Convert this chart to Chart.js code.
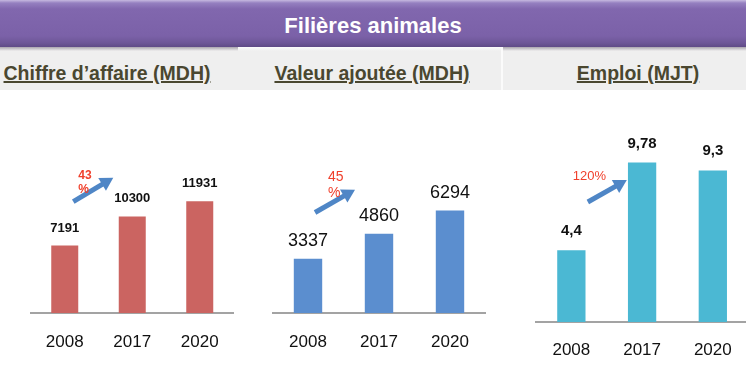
<!DOCTYPE html>
<html><head><meta charset="utf-8">
<script src="https://cdn.jsdelivr.net/npm/chart.js@4/dist/chart.umd.min.js"></script>
<style>
html,body{margin:0;padding:0;background:#fff;width:746px;height:380px;overflow:hidden;position:relative;font-family:"Liberation Sans",Arial,sans-serif}
#band{position:absolute;left:0;top:0;width:746px;height:47px;background:linear-gradient(#c6b9e0 0px,#9580c0 3px,#8167ae 9px,#7b61a8 36px,#6d5697 43px,#5f4a86 47px);}
#title{position:absolute;left:0;top:2px;width:746px;height:45px;line-height:47px;text-align:center;color:#fff;font-weight:bold;font-size:22px;}
#sub{position:absolute;left:0;top:47px;width:746px;height:43px;background:#efefef;}
.sh{position:absolute;top:47px;height:4px;background:linear-gradient(#a9a4ae,#efefef);}
#sep{position:absolute;left:501px;top:47px;width:2px;height:43px;background:#fbfbfb;}
.st{position:absolute;top:61px;height:24px;line-height:24px;text-align:center;font-weight:bold;font-size:19.5px;color:#4a4730;text-decoration:underline;text-decoration-thickness:1.5px;white-space:nowrap;}
canvas{position:absolute;}
</style></head>
<body>
<div id="band"></div>
<div id="title">Filières animales</div>
<div id="sub"></div>
<div class="sh" style="left:0;width:238px"></div>
<div class="sh" style="left:238px;width:264px;background:linear-gradient(#fbfbfb,#efefef)"></div>
<div class="sh" style="left:502px;width:244px"></div>
<div id="sep"></div>
<div class="st" style="left:0;width:214px">Chiffre d’affaire (MDH)</div>
<div class="st" style="left:272px;width:200px">Valeur ajoutée (MDH)</div>
<div class="st" style="left:538px;width:200px">Emploi (MJT)</div>
<canvas id="c1" width="250" height="285" style="left:0;top:95px"></canvas>
<canvas id="c2" width="250" height="285" style="left:250px;top:95px"></canvas>
<canvas id="c3" width="250" height="285" style="left:500px;top:95px"></canvas>
<script>
// ---- data ----
const years = ['2008', '2017', '2020'];
const chiffreAffaire = [7191, 10300, 11931];
const valeurAjoutee = [3337, 4860, 6294];
const emploi = [4.4, 9.78, 9.3];
const growthCA = ['43', '%'];
const growthVA = ['45', '%'];
const growthEmploi = ['120%'];

const annotPlugin = {
  id: 'annot',
  afterDatasetsDraw(chart, args, o) {
    const ctx = chart.ctx;
    const meta = chart.getDatasetMeta(0);
    const vals = chart.data.datasets[0].data;
    const xs = chart.scales.x, ys = chart.scales.y;
    ctx.save();
    // value labels
    ctx.fillStyle = '#111';
    ctx.font = o.valueFont;
    ctx.textAlign = 'center';
    ctx.textBaseline = 'alphabetic';
    meta.data.forEach((bar, i) => {
      ctx.fillText(String(vals[i]).replace('.', ','), bar.x, bar.y - o.valueGap);
    });
    // arrow
    const x1 = xs.getPixelForValue(o.arrow.from[0]), y1 = ys.getPixelForValue(o.arrow.from[1]);
    const x2 = xs.getPixelForValue(o.arrow.to[0]), y2 = ys.getPixelForValue(o.arrow.to[1]);
    const ang = Math.atan2(y2 - y1, x2 - x1);
    const hl = 13, hw = 7.5;
    const bx = x2 - hl * Math.cos(ang), by = y2 - hl * Math.sin(ang);
    ctx.strokeStyle = '#4f86c6';
    ctx.fillStyle = '#4f86c6';
    ctx.lineWidth = 5;
    ctx.lineCap = 'butt';
    ctx.beginPath(); ctx.moveTo(x1, y1); ctx.lineTo(bx + 2 * Math.cos(ang), by + 2 * Math.sin(ang)); ctx.stroke();
    ctx.beginPath();
    ctx.moveTo(x2, y2);
    ctx.lineTo(bx + hw * Math.sin(ang), by - hw * Math.cos(ang));
    ctx.lineTo(bx - hw * Math.sin(ang), by + hw * Math.cos(ang));
    ctx.closePath(); ctx.fill();
    // growth text
    ctx.fillStyle = '#f0402c';
    ctx.font = o.growthFont;
    ctx.textAlign = 'left';
    ctx.textBaseline = 'middle';
    const gx = xs.getPixelForValue(o.growthAt[0]), gy = ys.getPixelForValue(o.growthAt[1]);
    o.growth.forEach((t, k) => ctx.fillText(t, gx, gy + k * o.growthLH));
    ctx.restore();
  }
};

function makeChart(id, values, color, yMax, pad, tickPad, annot) {
  return new Chart(document.getElementById(id), {
    type: 'bar',
    data: { labels: years, datasets: [{ data: values, backgroundColor: color, borderWidth: 0, barPercentage: 0.4, categoryPercentage: 1 }] },
    options: {
      responsive: false, animation: false, events: [],
      layout: { padding: pad },
      plugins: { legend: { display: false }, tooltip: { enabled: false }, annot: annot },
      scales: {
        x: {
          grid: { display: false, drawTicks: false },
          border: { display: true, color: '#a3a3a3', width: 2 },
          ticks: { color: '#111', padding: tickPad, font: { family: '"Liberation Sans", Arial, sans-serif', size: 17 } }
        },
        y: { display: false, min: 0, max: yMax }
      }
    },
    plugins: [annotPlugin]
  });
}

makeChart('c1', chiffreAffaire, '#cb6461', 22000,
  { left: 31, right: 16.5, top: 11.8, bottom: 8.6 }, 19,
  { valueFont: 'bold 13px "Liberation Sans", Arial, sans-serif', valueGap: 14,
    arrow: { from: [0.126, 11890], to: [0.719, 14437] },
    growth: growthCA, growthAt: [0.2, 14650], growthLH: 14,
    growthFont: 'bold 12px "Liberation Sans", Arial, sans-serif' });

makeChart('c2', valeurAjoutee, '#5b8ecf', 12000,
  { left: 22.5, right: 14.5, top: 22.6, bottom: 8.6 }, 19,
  { valueFont: '18px "Liberation Sans", Arial, sans-serif', valueGap: 13,
    arrow: { from: [0.099, 6170], to: [0.662, 7575] },
    growth: growthVA, growthAt: [0.282, 8369], growthLH: 16,
    growthFont: '14px "Liberation Sans", Arial, sans-serif' });

makeChart('c3', emploi, '#4bb8d3', 13,
  { left: 36, right: 1.6, top: 15.1, bottom: 1.6 }, 18,
  { valueFont: 'bold 15px "Liberation Sans", Arial, sans-serif', valueGap: 15,
    arrow: { from: [0.233, 7.36], to: [0.784, 8.71] },
    growth: growthEmploi, growthAt: [0.021, 8.96], growthLH: 14,
    growthFont: '13px "Liberation Sans", Arial, sans-serif' });
</script>
</body></html>
